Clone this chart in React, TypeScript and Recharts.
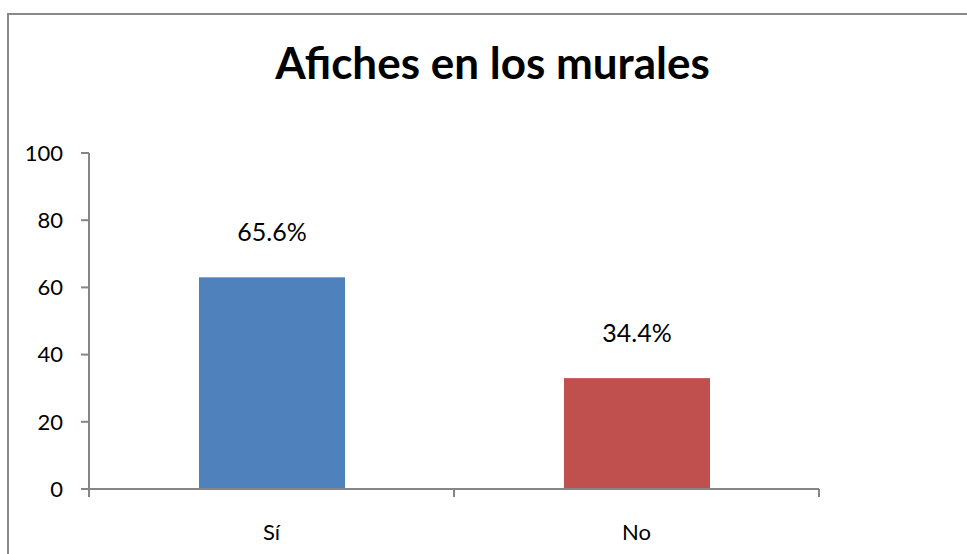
import { BarChart, Bar, XAxis, YAxis, LabelList } from 'recharts';

const categories = ['Sí', 'No'];
const values = [63, 33];
const percentLabels = ['65.6%', '34.4%'];
const yTicks = [0, 20, 40, 60, 80, 100];

const BAR_COLORS = ['#4F81BD', '#C0504D'];
const AXIS = '#868686';
const FONT = 'Lato, "Open Sans", sans-serif';

// bars sit in the middle of each category slot (0.5, 1.5 ...)
const data = categories.map((name, i) => ({
  name,
  value: values[i],
  label: percentLabels[i],
  pos: i + 0.5,
}));

// boundaries get a tick mark, centres get the category name
const xTicks = [0, ...categories.flatMap((_, i) => [i + 0.5, i + 1])];

const ColoredBar = (props: any) => {
  const { x, y, width, height, index } = props;
  return <rect x={x} y={y} width={width} height={height} fill={BAR_COLORS[index % BAR_COLORS.length]} />;
};

const CategoryTick = (props: any) => {
  const { x, y, payload } = props;
  const v = payload.value;
  if (Number.isInteger(v)) {
    return <line x1={x} x2={x} y1={y} y2={y + 8} stroke={AXIS} strokeWidth={2} />;
  }
  return (
    <text x={x} y={y + 35} dy="0.71em" textAnchor="middle" fill="#000" fontSize={22} fontFamily={FONT}>
      {categories[Math.floor(v)]}
    </text>
  );
};

export default function App() {
  return (
    <div
      style={{
        position: 'absolute',
        left: 0,
        top: 0,
        width: 967,
        height: 554,
        overflow: 'hidden',
        background: '#fff',
        fontFamily: FONT,
      }}
    >
      <div
        style={{
          position: 'absolute',
          left: 7,
          top: 13,
          width: 1000,
          height: 600,
          border: '2px solid #898989',
          boxSizing: 'border-box',
        }}
      />
      <div
        style={{
          position: 'absolute',
          left: 0,
          width: 967,
          top: 36,
          textAlign: 'center',
          paddingLeft: 18,
          boxSizing: 'border-box',
          fontSize: 44,
          fontWeight: 700,
          color: '#000',
          lineHeight: '52px',
        }}
      >
        Afiches en los murales
      </div>
      <div style={{ position: 'absolute', left: 0, top: 0 }}>
        <BarChart
          width={967}
          height={554}
          data={data}
          margin={{ top: 153, right: 148, bottom: 0, left: 0 }}
        >
          <XAxis
            dataKey="pos"
            type="number"
            domain={[0, categories.length]}
            ticks={xTicks}
            interval={0}
            tickLine={false}
            axisLine={{ stroke: AXIS, strokeWidth: 2 }}
            tickSize={0}
            tickMargin={0}
            tick={CategoryTick}
            height={65}
          />
          <YAxis
            width={89}
            domain={[0, 100]}
            ticks={yTicks}
            interval={0}
            axisLine={{ stroke: AXIS, strokeWidth: 2 }}
            tickLine={{ stroke: AXIS, strokeWidth: 2 }}
            tickSize={8}
            tickMargin={18}
            tick={{ fill: '#000', fontSize: 22, fontFamily: FONT }}
          />
          <Bar dataKey="value" barSize={146} shape={ColoredBar} isAnimationActive={false}>
            <LabelList
              dataKey="label"
              position="top"
              offset={36}
              style={{ fill: '#000', fontSize: 25, fontFamily: FONT }}
            />
          </Bar>
        </BarChart>
      </div>
    </div>
  );
}
